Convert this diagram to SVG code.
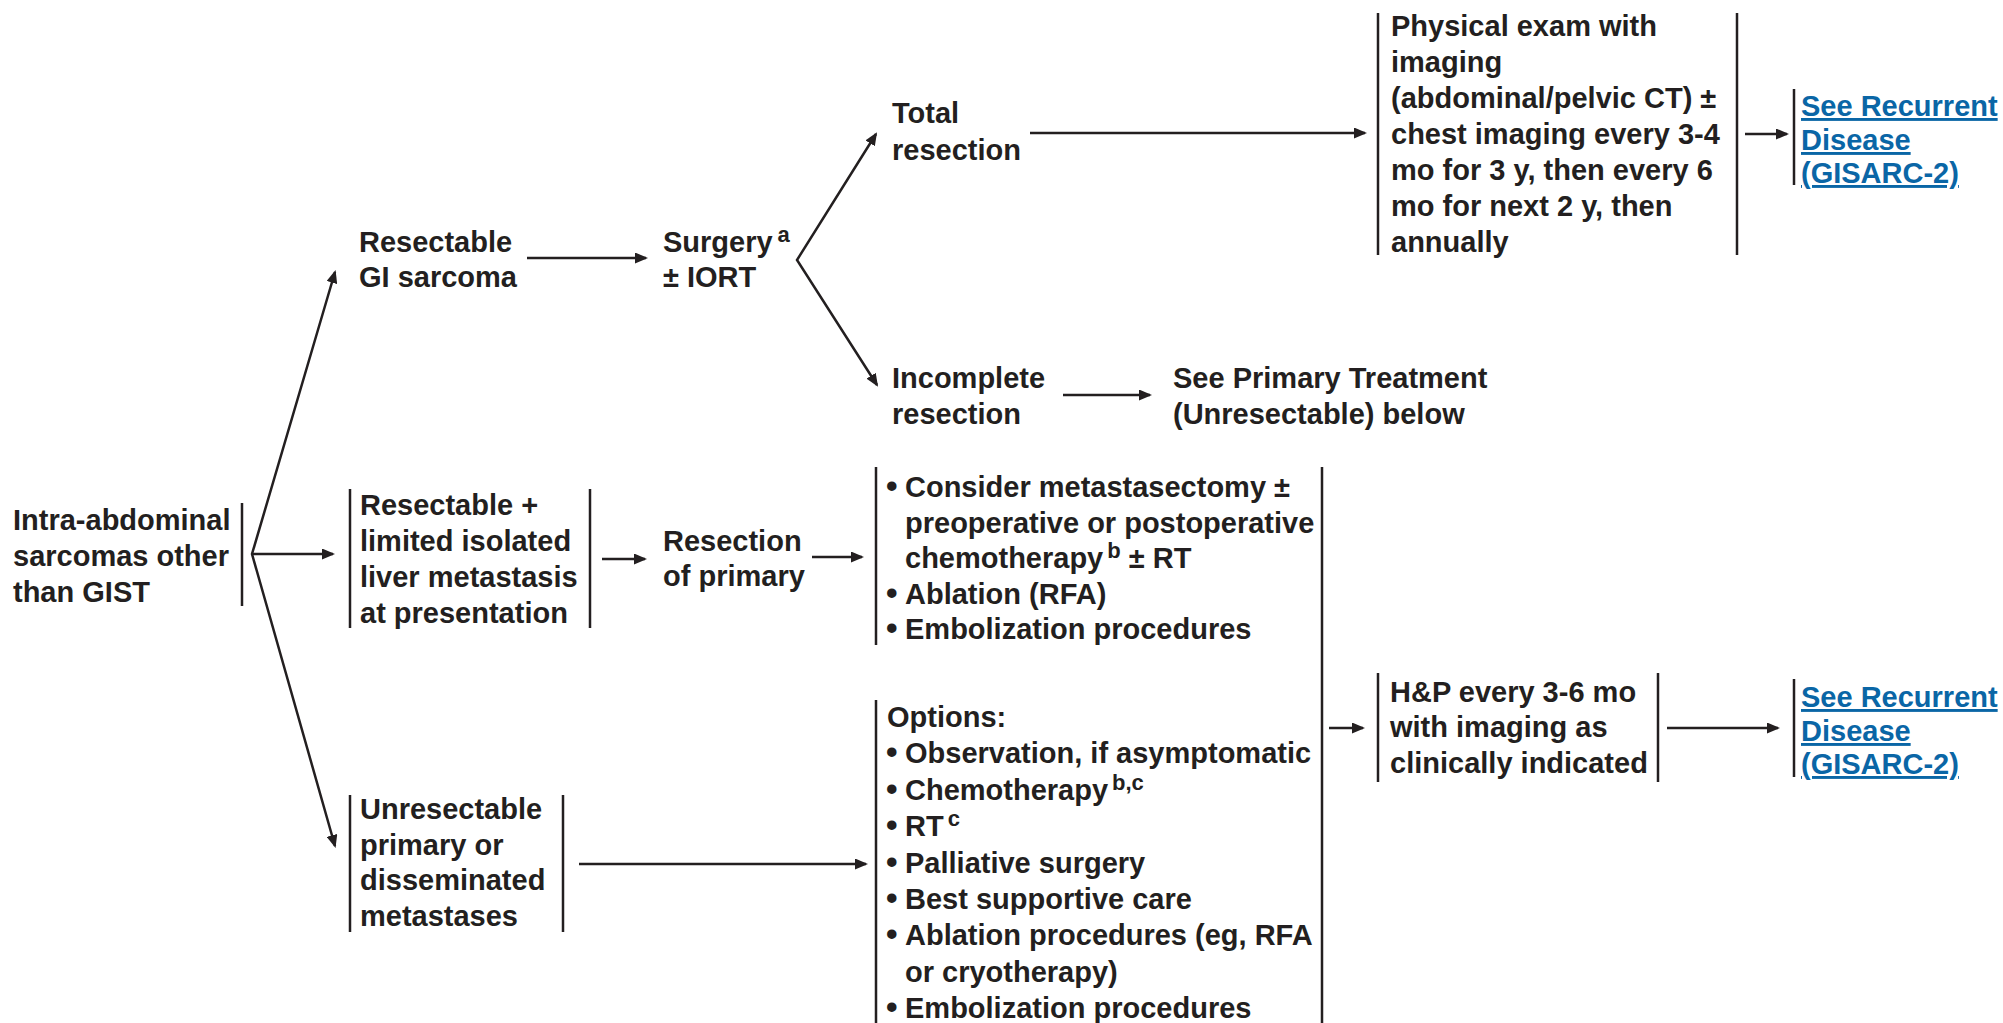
<svg xmlns="http://www.w3.org/2000/svg" width="2003" height="1023" viewBox="0 0 2003 1023">
<style>
.t{font-family:"Liberation Sans",Arial,Helvetica,sans-serif;font-weight:bold;font-size:29px;fill:#231f20}
.sup{font-size:22px}
.bul{font-size:33px}
.link{fill:#0a66a6;text-decoration:underline}
.bar{stroke:#231f20;stroke-width:2.5;fill:none}
.c{stroke:#231f20;stroke-width:2.5;fill:none;marker-end:url(#ah)}
.c2{stroke:#231f20;stroke-width:2.5;fill:none;marker-start:url(#ah);marker-end:url(#ah);stroke-linejoin:miter}
</style>
<defs>
<marker id="ah" markerUnits="userSpaceOnUse" viewBox="0 0 13 11" markerWidth="13" markerHeight="11" refX="11" refY="5.5" orient="auto-start-reverse">
<path d="M0,0 L13,5.5 L0,11 z" fill="#231f20"/>
</marker>
</defs>
<rect width="2003" height="1023" fill="#ffffff"/>

<g id="connectors">
<path class="c2" d="M335,272 L252,554 L335,846"/>
<line class="c" x1="252" y1="554" x2="333" y2="554"/>
<line class="c" x1="527" y1="258" x2="646" y2="258"/>
<path class="c2" d="M876,134 L797,260 L877,385"/>
<line class="c" x1="1030" y1="133" x2="1365" y2="133"/>
<line class="c" x1="1745" y1="134" x2="1787" y2="134"/>
<line class="c" x1="1063" y1="395" x2="1150" y2="395"/>
<line class="c" x1="602" y1="559" x2="645" y2="559"/>
<line class="c" x1="812" y1="557" x2="862" y2="557"/>
<line class="c" x1="579" y1="864" x2="866" y2="864"/>
<line class="c" x1="1329" y1="728" x2="1363" y2="728"/>
<line class="c" x1="1667" y1="728" x2="1778" y2="728"/>
</g>

<g id="n-intra">
<line class="bar" x1="242" y1="503" x2="242" y2="606"/>
<text class="t" x="13" y="530">Intra-abdominal</text>
<text class="t" x="13" y="566">sarcomas other</text>
<text class="t" x="13" y="602">than GIST</text>
</g>

<g id="n-resectable-gi">
<text class="t" x="359" y="252">Resectable</text>
<text class="t" x="359" y="287">GI sarcoma</text>
</g>

<g id="n-surgery">
<text class="t" x="663" y="252">Surgery<tspan class="sup" dx="5" dy="-10">a</tspan></text>
<text class="t" x="663" y="287">± IORT</text>
</g>

<g id="n-total">
<text class="t" x="892" y="123">Total</text>
<text class="t" x="892" y="160">resection</text>
</g>

<g id="n-incomplete">
<text class="t" x="892" y="388">Incomplete</text>
<text class="t" x="892" y="424">resection</text>
</g>

<g id="n-see-primary">
<text class="t" x="1173" y="388">See Primary Treatment</text>
<text class="t" x="1173" y="424">(Unresectable) below</text>
</g>

<g id="n-physical">
<line class="bar" x1="1378" y1="13" x2="1378" y2="255"/>
<line class="bar" x1="1737" y1="13" x2="1737" y2="255"/>
<text class="t" x="1391" y="36">Physical exam with</text>
<text class="t" x="1391" y="72">imaging</text>
<text class="t" x="1391" y="108">(abdominal/pelvic CT) ±</text>
<text class="t" x="1391" y="144">chest imaging every 3-4</text>
<text class="t" x="1391" y="180">mo for 3 y, then every 6</text>
<text class="t" x="1391" y="216">mo for next 2 y, then</text>
<text class="t" x="1391" y="252">annually</text>
</g>

<g id="n-recurrent-1">
<line class="bar" x1="1794" y1="89" x2="1794" y2="185"/>
<text class="t link" x="1801" y="116">See Recurrent</text>
<text class="t link" x="1801" y="150">Disease</text>
<text class="t link" x="1801" y="183">(GISARC-2)</text>
</g>

<g id="n-resectable-liver">
<line class="bar" x1="350" y1="489" x2="350" y2="628"/>
<line class="bar" x1="590" y1="489" x2="590" y2="628"/>
<text class="t" x="360" y="515">Resectable +</text>
<text class="t" x="360" y="551">limited isolated</text>
<text class="t" x="360" y="587">liver metastasis</text>
<text class="t" x="360" y="623">at presentation</text>
</g>

<g id="n-resection-primary">
<text class="t" x="663" y="551">Resection</text>
<text class="t" x="663" y="586">of primary</text>
</g>

<g id="n-metastasectomy">
<line class="bar" x1="876" y1="467" x2="876" y2="645"/>
<text class="t bul" x="886" y="497">•</text>
<text class="t" x="905" y="497">Consider metastasectomy ±</text>
<text class="t" x="905" y="532.5">preoperative or postoperative</text>
<text class="t" x="905" y="568">chemotherapy<tspan class="sup" dx="4" dy="-10">b</tspan><tspan dy="10"> ± RT</tspan></text>
<text class="t bul" x="886" y="603.5">•</text>
<text class="t" x="905" y="603.5">Ablation (RFA)</text>
<text class="t bul" x="886" y="639">•</text>
<text class="t" x="905" y="639">Embolization procedures</text>
</g>

<g id="n-unresectable">
<line class="bar" x1="350" y1="795" x2="350" y2="932"/>
<line class="bar" x1="563" y1="795" x2="563" y2="932"/>
<text class="t" x="360" y="819">Unresectable</text>
<text class="t" x="360" y="855">primary or</text>
<text class="t" x="360" y="890">disseminated</text>
<text class="t" x="360" y="926">metastases</text>
</g>

<g id="n-options">
<line class="bar" x1="876" y1="700" x2="876" y2="1023"/>
<text class="t" x="887" y="727">Options:</text>
<text class="t bul" x="886" y="763.4">•</text>
<text class="t" x="905" y="763.4">Observation, if asymptomatic</text>
<text class="t bul" x="886" y="799.8">•</text>
<text class="t" x="905" y="799.8">Chemotherapy<tspan class="sup" dx="4" dy="-10">b,c</tspan></text>
<text class="t bul" x="886" y="836.2">•</text>
<text class="t" x="905" y="836.2">RT<tspan class="sup" dx="4" dy="-10">c</tspan></text>
<text class="t bul" x="886" y="872.6">•</text>
<text class="t" x="905" y="872.6">Palliative surgery</text>
<text class="t bul" x="886" y="909">•</text>
<text class="t" x="905" y="909">Best supportive care</text>
<text class="t bul" x="886" y="945.4">•</text>
<text class="t" x="905" y="945.4">Ablation procedures (eg, RFA</text>
<text class="t" x="905" y="981.8">or cryotherapy)</text>
<text class="t bul" x="886" y="1018.2">•</text>
<text class="t" x="905" y="1018.2">Embolization procedures</text>
</g>

<g id="n-shared-bar">
<line class="bar" x1="1322" y1="467" x2="1322" y2="1023"/>
</g>

<g id="n-hp">
<line class="bar" x1="1378" y1="673" x2="1378" y2="782"/>
<line class="bar" x1="1658" y1="673" x2="1658" y2="782"/>
<text class="t" x="1390" y="702">H&amp;P every 3-6 mo</text>
<text class="t" x="1390" y="737">with imaging as</text>
<text class="t" x="1390" y="773">clinically indicated</text>
</g>

<g id="n-recurrent-2">
<line class="bar" x1="1794" y1="679" x2="1794" y2="777"/>
<text class="t link" x="1801" y="707">See Recurrent</text>
<text class="t link" x="1801" y="741">Disease</text>
<text class="t link" x="1801" y="774">(GISARC-2)</text>
</g>
</svg>
